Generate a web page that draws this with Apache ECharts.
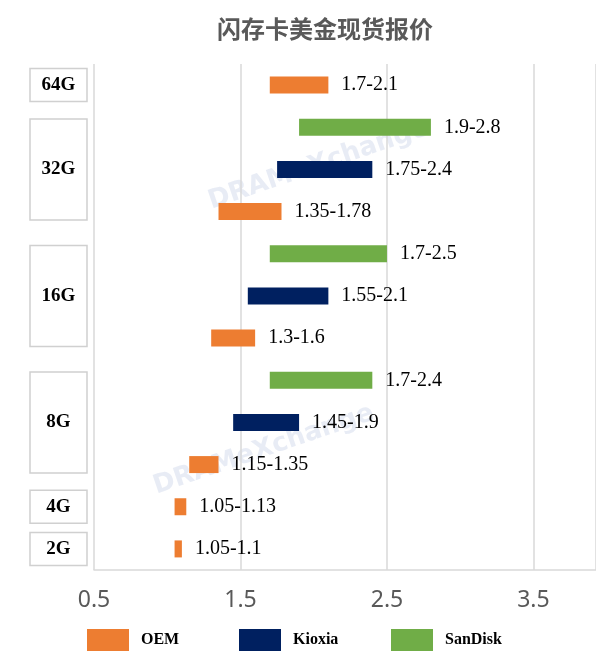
<!DOCTYPE html>
<html>
<head>
<meta charset="utf-8">
<title>闪存卡美金现货报价</title>
<script src="https://cdn.jsdelivr.net/npm/echarts@6/dist/echarts.min.js"></script>
<style>
  html, body { margin: 0; padding: 0; background: #fff; }
  #chart { width: 596px; height: 664px; }
</style>
</head>
<body>
<div id="chart"></div>
<script>
// rows top to bottom
var capacities = ['64G', '32G', '32G', '32G', '16G', '16G', '16G', '8G', '8G', '8G', '4G', '2G'];
var brands = ['OEM', 'SanDisk', 'Kioxia', 'OEM', 'SanDisk', 'Kioxia', 'OEM', 'SanDisk', 'Kioxia', 'OEM', 'OEM', 'OEM'];
var lows = [1.7, 1.9, 1.75, 1.35, 1.7, 1.55, 1.3, 1.7, 1.45, 1.15, 1.05, 1.05];
var highs = [2.1, 2.8, 2.4, 1.78, 2.5, 2.1, 1.6, 2.4, 1.9, 1.35, 1.13, 1.1];

// label boxes on the left: one box per capacity group
var groupNames = ['64G', '32G', '16G', '8G', '4G', '2G'];
var groupSizes = [1, 3, 3, 3, 1, 1];

var legendNames = ['OEM', 'Kioxia', 'SanDisk'];
var colors = { OEM: '#ED7D31', Kioxia: '#002060', SanDisk: '#70AD47' };

var xTicks = [0.5, 1.5, 2.5, 3.5];

// which row carries the group label (middle row of each group)
var labelAt = {};
var start = 0;
for (var g = 0; g < groupNames.length; g++) {
    labelAt[start + Math.floor(groupSizes[g] / 2)] = { name: groupNames[g], size: groupSizes[g] };
    start += groupSizes[g];
}

var rowKeys = capacities.map(function (c, i) { return c + ' ' + brands[i]; });

var series = [{
    name: 'base',
    type: 'bar',
    stack: 'range',
    silent: true,
    barWidth: 17,
    itemStyle: { color: 'transparent' },
    data: lows
}];

legendNames.forEach(function (b) {
    series.push({
        name: b,
        type: 'bar',
        stack: 'range',
        barWidth: 17,
        itemStyle: { color: colors[b] },
        label: {
            show: true,
            position: 'right',
            distance: 13,
            color: '#000',
            fontFamily: 'Liberation Serif',
            fontSize: 20,
            formatter: function (p) {
                return lows[p.dataIndex] + '-' + highs[p.dataIndex];
            }
        },
        data: brands.map(function (br, i) {
            return br === b ? highs[i] - lows[i] : '-';
        })
    });
});

// one legend per brand so the items sit on an even 152px pitch
var legends = legendNames.map(function (name, i) {
    return {
        data: [name],
        left: 87 + i * 152,
        top: 629,
        padding: 0,
        icon: 'rect',
        itemWidth: 42,
        itemHeight: 22,
        selectedMode: false,
        textStyle: {
            fontFamily: 'Liberation Serif',
            fontWeight: 'bold',
            fontSize: 16,
            color: '#000',
            padding: [0, 0, 0, 7]
        }
    };
});

var boxStyle = {
    width: 57,
    align: 'center',
    borderColor: '#d0d0d0',
    borderWidth: 1.5,
    color: '#000',
    fontFamily: 'Liberation Serif',
    fontWeight: 'bold',
    fontSize: 19
};

var watermark = {
    text: 'DRAMeXchange',
    fontFamily: 'DejaVu Sans',
    fontWeight: 'bold',
    fontSize: 26,
    fill: 'rgba(190,200,225,0.35)'
};

var chart = echarts.init(document.getElementById('chart'));
chart.setOption({
    animation: false,
    title: {
        text: '闪存卡美金现货报价',
        left: 212,
        top: 12,
        textStyle: {
            fontFamily: 'Noto Sans CJK SC',
            fontSize: 24,
            fontWeight: 'bold',
            color: '#595959'
        }
    },
    legend: legends,
    grid: {
        left: 94,
        right: 0,
        top: 64,
        bottom: 94,
        containLabel: false
    },
    xAxis: {
        type: 'value',
        min: 0.5,
        max: 3.927,
        interval: 1,
        axisLine: { show: true, lineStyle: { color: '#d9d9d9', width: 1.5 } },
        axisTick: { show: false },
        splitLine: { show: true, lineStyle: { color: '#d9d9d9', width: 1.5 } },
        axisLabel: {
            margin: 19,
            color: '#595959',
            fontFamily: 'Noto Sans',
            fontSize: 23,
            showMaxLabel: false,
            formatter: function (v) {
                return xTicks.indexOf(v) >= 0 ? v.toFixed(1) : '';
            }
        }
    },
    yAxis: {
        type: 'category',
        inverse: true,
        data: rowKeys,
        axisLine: { show: false },
        axisTick: { show: false },
        splitLine: { show: false },
        axisLabel: {
            interval: 0,
            margin: 7,
            formatter: function (v, i) {
                var l = labelAt[i];
                if (!l) return '';
                return (l.size > 1 ? '{big|' : '{small|') + l.name + '}';
            },
            rich: {
                small: Object.assign({ height: 33 }, boxStyle),
                big: Object.assign({ height: 101 }, boxStyle)
            }
        }
    },
    graphic: [{
        type: 'text',
        left: 205,
        top: 115,
        rotation: 0.33,
        silent: true,
        style: watermark
    }, {
        type: 'text',
        left: 150,
        top: 400,
        rotation: 0.33,
        silent: true,
        style: watermark
    }],
    series: series
});
</script>
</body>
</html>
